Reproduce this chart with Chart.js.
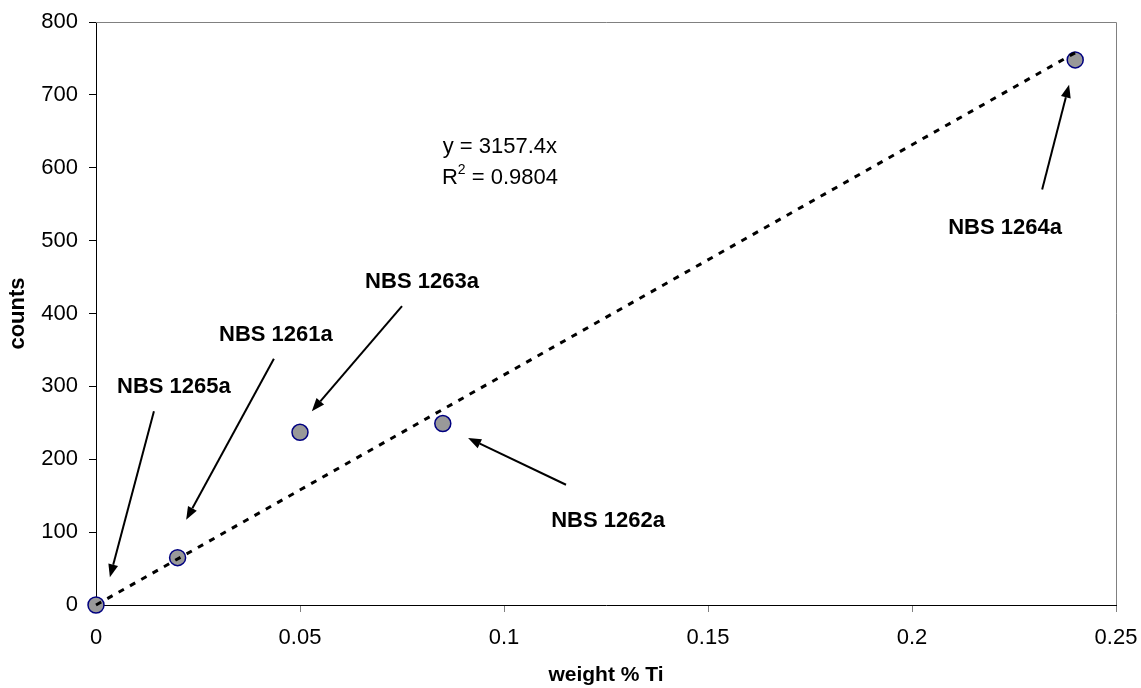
<!DOCTYPE html>
<html>
<head>
<meta charset="utf-8">
<script src="https://cdn.jsdelivr.net/npm/chart.js@4.4.0/dist/chart.umd.min.js"></script>
<style>
  html, body { margin: 0; padding: 0; background: #fff; }
  #wrap { width: 1141px; height: 688px; }
</style>
</head>
<body>
<div id="wrap"><canvas id="chart" width="1141" height="688"></canvas></div>
<script>
'use strict';

// ── Data ──
const weightTi = [0, 0.02, 0.05, 0.085, 0.24];
const counts   = [0, 65, 237, 249, 748];
const sampleNames = ['NBS 1265a', 'NBS 1261a', 'NBS 1263a', 'NBS 1262a', 'NBS 1264a'];

// trendline y = 3157.4x, end points
const trendX = [0, 0.24];
const trendY = [0, 757.8];

const xTicks = [0, 0.05, 0.1, 0.15, 0.2, 0.25];
const xTickLabels = ['0', '0.05', '0.1', '0.15', '0.2', '0.25'];
const yTicks = [0, 100, 200, 300, 400, 500, 600, 700, 800];

// annotation positions, in data units (label centre, arrow tail, arrow head)
const labelX = [0.0191, 0.0441, 0.0799, 0.1255, 0.2228];
const labelY = [299, 370, 443, 115, 517];
const tailX  = [0.0142, 0.0436, 0.0750, 0.1152, 0.2319];
const tailY  = [266, 338, 410, 165, 570];
const headX  = [0.0034, 0.0221, 0.0529, 0.0912, 0.2385];
const headY  = [38, 117, 266, 229, 714];

const eqLines = ['y = 3157.4x', 'R', '2', ' = 0.9804'];
const eqX = 0.099;
const eqY = [628, 586];

const FONT = '"Liberation Sans", Arial, sans-serif';

const frame = {
  id: 'frame',
  beforeDatasetsDraw(chart) {
    const { ctx, chartArea: a } = chart;
    ctx.save();
    ctx.strokeStyle = '#808080';
    ctx.lineWidth = 1;
    ctx.beginPath();
    ctx.moveTo(a.left, Math.round(a.top) + 0.5);
    ctx.lineTo(Math.round(a.right) + 0.5, Math.round(a.top) + 0.5);
    ctx.lineTo(Math.round(a.right) + 0.5, a.bottom);
    ctx.stroke();
    ctx.restore();
  }
};

function drawArrow(c, x1, y1, x2, y2) {
  const ang = Math.atan2(y2 - y1, x2 - x1);
  const len = 13, half = 5;
  const bx = x2 - len * Math.cos(ang);
  const by = y2 - len * Math.sin(ang);
  c.beginPath();
  c.moveTo(x1, y1);
  c.lineTo(bx, by);
  c.stroke();
  c.beginPath();
  c.moveTo(x2, y2);
  c.lineTo(bx + half * Math.sin(ang), by - half * Math.cos(ang));
  c.lineTo(bx - half * Math.sin(ang), by + half * Math.cos(ang));
  c.closePath();
  c.fill();
}

const notes = {
  id: 'notes',
  afterDatasetsDraw(chart) {
    const { ctx: c, scales: { x, y } } = chart;
    c.save();
    c.strokeStyle = '#000';
    c.fillStyle = '#000';
    c.lineWidth = 2;
    for (let i = 0; i < sampleNames.length; i++) {
      drawArrow(c, x.getPixelForValue(tailX[i]), y.getPixelForValue(tailY[i]),
                   x.getPixelForValue(headX[i]), y.getPixelForValue(headY[i]));
    }
    c.textAlign = 'center';
    c.textBaseline = 'middle';
    c.font = 'bold 22px ' + FONT;
    for (let i = 0; i < sampleNames.length; i++) {
      c.fillText(sampleNames[i], x.getPixelForValue(labelX[i]), y.getPixelForValue(labelY[i]));
    }

    // regression equation
    const cx = x.getPixelForValue(eqX);
    const big = '22px ' + FONT, small = '14px ' + FONT;
    c.font = big;
    c.fillText(eqLines[0], cx, y.getPixelForValue(eqY[0]));
    const wR = c.measureText(eqLines[1]).width;
    const wRest = c.measureText(eqLines[3]).width;
    c.font = small;
    const w2 = c.measureText(eqLines[2]).width;
    const left = cx - (wR + w2 + wRest) / 2;
    const ly = y.getPixelForValue(eqY[1]);
    c.textAlign = 'left';
    c.font = big;
    c.fillText(eqLines[1], left, ly);
    c.font = small;
    c.fillText(eqLines[2], left + wR, ly - 8);
    c.font = big;
    c.fillText(eqLines[3], left + wR + w2, ly);
    c.restore();
  }
};

new Chart(document.getElementById('chart'), {
  type: 'scatter',
  plugins: [frame, notes],
  data: {
    datasets: [
      {
        type: 'line',
        data: trendX.map((v, i) => ({ x: v, y: trendY[i] })),
        borderColor: '#000',
        borderWidth: 3,
        borderDash: [6, 7],
        pointRadius: 0,
        fill: false,
        clip: false,
        order: 0
      },
      {
        data: weightTi.map((v, i) => ({ x: v, y: counts[i] })),
        backgroundColor: '#999999',
        borderColor: '#000080',
        borderWidth: 1.5,
        pointRadius: 8,
        clip: false,
        order: 1
      }
    ]
  },
  options: {
    responsive: false,
    animation: false,
    devicePixelRatio: 1,
    layout: { padding: { left: 0, right: 25, top: 22, bottom: 0 } },
    plugins: { legend: { display: false }, tooltip: { enabled: false } },
    scales: {
      x: {
        type: 'linear',
        min: 0,
        max: 0.25,
        afterBuildTicks(scale) { scale.ticks = xTicks.map(v => ({ value: v })); },
        afterFit(scale) {
          scale.height = 83;
          scale.paddingLeft = 0;
          scale.paddingRight = 0;
        },
        ticks: {
          callback: (v, i) => xTickLabels[i],
          font: { family: FONT, size: 22 },
          color: '#000',
          padding: 13,
          maxRotation: 0
        },
        grid: { drawOnChartArea: false, drawTicks: true, tickLength: 7, color: '#808080' },
        border: { display: true, color: '#000', width: 1 },
        title: {
          display: true,
          text: 'weight % Ti',
          font: { family: FONT, size: 21, weight: 'bold' },
          color: '#000',
          padding: { top: 0, bottom: 0 }
        }
      },
      y: {
        min: 0,
        max: 800,
        afterBuildTicks(scale) { scale.ticks = yTicks.map(v => ({ value: v })); },
        afterFit(scale) {
          scale.width = 96;
          scale.paddingTop = 0;
          scale.paddingBottom = 0;
        },
        ticks: {
          font: { family: FONT, size: 22 },
          color: '#000',
          padding: 11
        },
        grid: { drawOnChartArea: false, drawTicks: true, tickLength: 7, color: '#000' },
        border: { display: true, color: '#000', width: 1 },
        title: {
          display: true,
          text: 'counts',
          font: { family: FONT, size: 22, weight: 'bold' },
          color: '#000',
          padding: { top: 5, bottom: 0 }
        }
      }
    }
  }
});
</script>
</body>
</html>
